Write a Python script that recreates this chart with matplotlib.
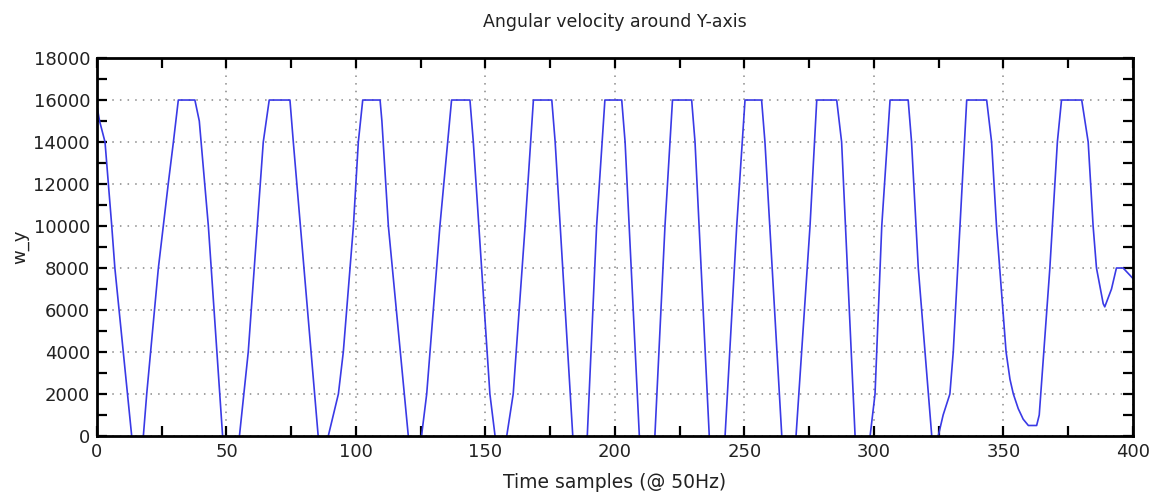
import matplotlib
matplotlib.use("Agg")
import matplotlib.pyplot as plt
from matplotlib.ticker import MultipleLocator

# Breakpoints of the angular-velocity trace
time_samples = [0, 1, 3.1, 5.7, 6.9, 13.4, 15.6, 17.9, 19.2, 23.7, 27.5, 29.5, 31.4, 37.8,
                39.5, 43, 48.5, 51.7, 55, 58.4, 64.2, 66.5, 74.5, 75.8, 85.4, 87.3, 89.3,
                93.2, 95.1, 99, 100.9, 102.6, 109.3, 110, 112.5, 120.2, 122.7, 125.3,
                127.3, 132.4, 136.9, 144, 145.3, 151.7, 153.7, 156, 158.2, 160.7, 165.3,
                168.5, 175.6, 176.9, 183.7, 186.5, 189.3, 192.9, 196.1, 202.6, 203.9,
                209.4, 212.4, 215.4, 219.3, 222.2, 229.6, 230.9, 236.4, 239.4, 242.5,
                247, 250.2, 256.6, 257.9, 264.4, 267.1, 269.9, 275.3, 277.9, 285.6,
                287.5, 292.7, 295.6, 298.5, 300.4, 303, 306.2, 313.2, 314.5, 317.1,
                322.3, 323.5, 324.8, 326.7, 329.3, 330.6, 333.2, 335.8, 343.5, 345.4,
                347.3, 351, 352.5, 353.8, 355.7, 357.6, 359.6, 362.8, 363.8, 367.9,
                370.8, 372.4, 380.2, 382.7, 384.6, 385.9, 388.5, 389.1, 391.7, 393.6,
                396.2, 400]
w_y = [15700, 15000, 14000, 10000, 8000, 0, -2000, 0, 2000, 8000, 12000, 14000, 16000, 16000,
       15000, 10000, 0, -2500, 0, 4000, 14000, 16000, 16000, 14000, 0, -2000, 0,
       2000, 4000, 10000, 14000, 16000, 16000, 15000, 10000, 0, -2000, 0,
       2000, 10000, 16000, 16000, 14000, 2000, 0, -2000, 0, 2000, 10000,
       16000, 16000, 14000, 0, -2500, 0, 10000, 16000, 16000, 14000,
       0, -2500, 0, 10000, 16000, 16000, 14000, 0, -2500, 0,
       10000, 16000, 16000, 14000, 0, -2500, 0, 10000, 16000, 16000,
       14000, 0, -2500, 0, 2000, 10000, 16000, 16000, 14000, 8000,
       0, -500, 0, 1000, 2000, 4000, 10000, 16000, 16000, 14000,
       10000, 4000, 2700, 2000, 1300, 800, 500, 500, 1000, 8000,
       14000, 16000, 16000, 14000, 10000, 8000, 6300, 6150, 7000, 8000,
       8000, 7500]

title = "Angular velocity around Y-axis"
x_label = "Time samples (@ 50Hz)"
y_label = "w_y"

fig = plt.figure(figsize=(11.56, 4.96), dpi=100)
ax = fig.add_axes([0.0839, 0.121, 0.8962, 0.762])
ax.plot(time_samples, w_y, color="#3a3ae6", lw=1.2)

ax.set_xlim(0, 400)
ax.set_ylim(0, 18000)
ax.xaxis.set_major_locator(MultipleLocator(50))
ax.xaxis.set_minor_locator(MultipleLocator(25))
ax.yaxis.set_major_locator(MultipleLocator(2000))
ax.yaxis.set_minor_locator(MultipleLocator(1000))
ax.tick_params(which="both", direction="in", top=True, right=True,
               length=7, width=1.6, colors="black")
ax.tick_params(which="major", labelsize=13, labelcolor="#222222", pad=5)
ax.grid(True, which="major", linestyle=(0, (1, 4)), color="#888888", lw=1.1)
for s in ax.spines.values():
    s.set_linewidth(2)

ax.set_title(title, fontsize=12.5, color="#222222", pad=22)
ax.set_xlabel(x_label, fontsize=13.5, color="#222222", labelpad=9)
ax.set_ylabel(y_label, fontsize=13, color="#222222", labelpad=3)

fig.savefig("out.png", dpi=100)
